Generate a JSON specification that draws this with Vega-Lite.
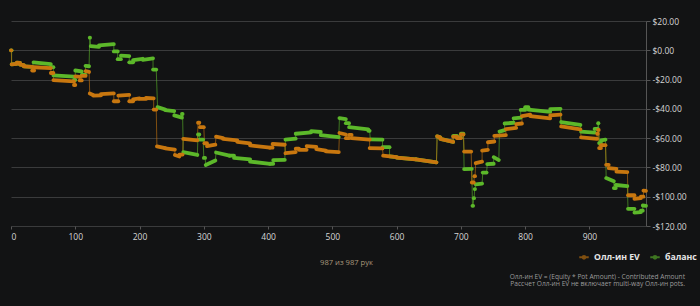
{
  "$schema": "https://vega.github.io/schema/vega-lite/v6.json",
  "width": 635,
  "height": 205,
  "autosize": {"type": "none"},
  "padding": {"left": 11, "top": 21, "right": 54, "bottom": 80},
  "background": "#121314",
  "config": {
    "view": {"stroke": null},
    "font": "Open Sans"
  },
  "title": {
    "text": ["Олл-ин EV = (Equity * Pot Amount) - Contributed Amount", "Рассчет Олл-ин EV не включает multi-way Олл-ин pots."],
    "orient": "bottom",
    "anchor": "end",
    "frame": "group",
    "dx": 39,
    "offset": 8,
    "fontSize": 6.6,
    "lineHeight": 7.6,
    "fontWeight": "normal",
    "color": "#9c9c9c",
    "font": "Open Sans"
  },
  "data": {
    "values": [
      {"s": "баланс", "x": 0, "x2": 1, "y": 0, "y2": 0},
      {"s": "баланс", "x": 1, "x2": 9, "y": -9.6, "y2": -9.3},
      {"s": "баланс", "x": 9, "x2": 14, "y": -8.5, "y2": -8.6},
      {"s": "баланс", "x": 14, "x2": 20, "y": -9.8, "y2": -10.2},
      {"s": "баланс", "x": 20, "x2": 33, "y": -11, "y2": -11.4},
      {"s": "баланс", "x": 35, "x2": 62, "y": -8.2, "y2": -9.5},
      {"s": "баланс", "x": 62, "x2": 66, "y": -11.5, "y2": -11.5},
      {"s": "баланс", "x": 66, "x2": 98, "y": -17.2, "y2": -18},
      {"s": "баланс", "x": 98, "x2": 100, "y": -20.3, "y2": -20.3},
      {"s": "баланс", "x": 100, "x2": 110, "y": -13.8, "y2": -14.4},
      {"s": "баланс", "x": 110, "x2": 116, "y": -16.8, "y2": -16.8},
      {"s": "баланс", "x": 116, "x2": 121.5, "y": -10.6, "y2": -10.9},
      {"s": "баланс", "x": 122.5, "x2": 123, "y": 8.6, "y2": 8.6},
      {"s": "баланс", "x": 124, "x2": 137, "y": 2.8, "y2": 2.3},
      {"s": "баланс", "x": 137, "x2": 160, "y": 3.3, "y2": 4.2},
      {"s": "баланс", "x": 160, "x2": 166, "y": -0.8, "y2": -0.8},
      {"s": "баланс", "x": 166, "x2": 171, "y": -6.1, "y2": -6.1},
      {"s": "баланс", "x": 171, "x2": 184, "y": -3.7, "y2": -4},
      {"s": "баланс", "x": 184, "x2": 190, "y": -8.2, "y2": -8.2},
      {"s": "баланс", "x": 190, "x2": 205, "y": -6.8, "y2": -5.8},
      {"s": "баланс", "x": 205, "x2": 221, "y": -6.5, "y2": -5.5},
      {"s": "баланс", "x": 221, "x2": 226, "y": -13.2, "y2": -13.2},
      {"s": "баланс", "x": 228, "x2": 240, "y": -38.8, "y2": -40.5},
      {"s": "баланс", "x": 240, "x2": 254, "y": -40.8, "y2": -41.5},
      {"s": "баланс", "x": 254, "x2": 266, "y": -44.5, "y2": -46},
      {"s": "баланс", "x": 266, "x2": 267, "y": -43.5, "y2": -43.5},
      {"s": "баланс", "x": 268, "x2": 290, "y": -69.5, "y2": -71.5},
      {"s": "баланс", "x": 291, "x2": 293, "y": -57.5, "y2": -57.5},
      {"s": "баланс", "x": 293, "x2": 299, "y": -61, "y2": -61},
      {"s": "баланс", "x": 300, "x2": 302, "y": -73.5, "y2": -73.5},
      {"s": "баланс", "x": 303, "x2": 318, "y": -78.3, "y2": -75.3},
      {"s": "баланс", "x": 319, "x2": 340, "y": -69.8, "y2": -72},
      {"s": "баланс", "x": 340, "x2": 347, "y": -72, "y2": -72},
      {"s": "баланс", "x": 347, "x2": 372, "y": -73.5, "y2": -74.5},
      {"s": "баланс", "x": 372, "x2": 403, "y": -76, "y2": -77.5},
      {"s": "баланс", "x": 403, "x2": 408, "y": -77.5, "y2": -77.5},
      {"s": "баланс", "x": 408, "x2": 426, "y": -75, "y2": -74.8},
      {"s": "баланс", "x": 427, "x2": 443, "y": -61, "y2": -60.3},
      {"s": "баланс", "x": 443, "x2": 467, "y": -57, "y2": -56},
      {"s": "баланс", "x": 467, "x2": 482, "y": -55.2, "y2": -55.8},
      {"s": "баланс", "x": 482, "x2": 510, "y": -58, "y2": -59.3},
      {"s": "баланс", "x": 511, "x2": 521, "y": -46.3, "y2": -47},
      {"s": "баланс", "x": 521, "x2": 526, "y": -49.8, "y2": -49.8},
      {"s": "баланс", "x": 526, "x2": 556, "y": -52.5, "y2": -54},
      {"s": "баланс", "x": 556, "x2": 558, "y": -55, "y2": -55},
      {"s": "баланс", "x": 559, "x2": 578, "y": -60.8, "y2": -61},
      {"s": "баланс", "x": 578, "x2": 589, "y": -66.2, "y2": -66.2},
      {"s": "баланс", "x": 589, "x2": 600, "y": -72.4, "y2": -73},
      {"s": "баланс", "x": 600, "x2": 630, "y": -73.3, "y2": -74.5},
      {"s": "баланс", "x": 630, "x2": 662, "y": -74.5, "y2": -76.5},
      {"s": "баланс", "x": 663, "x2": 668, "y": -58.8, "y2": -59.5},
      {"s": "баланс", "x": 668, "x2": 688, "y": -60.5, "y2": -62.5},
      {"s": "баланс", "x": 688, "x2": 694, "y": -58.5, "y2": -58.5},
      {"s": "баланс", "x": 694, "x2": 700, "y": -59.5, "y2": -59.5},
      {"s": "баланс", "x": 700, "x2": 704, "y": -57, "y2": -57},
      {"s": "баланс", "x": 705, "x2": 717, "y": -81.2, "y2": -81},
      {"s": "баланс", "x": 718, "x2": 719, "y": -106.2, "y2": -106.2},
      {"s": "баланс", "x": 720, "x2": 720.5, "y": -101, "y2": -101},
      {"s": "баланс", "x": 721.5, "x2": 722, "y": -94.8, "y2": -94.8},
      {"s": "баланс", "x": 723, "x2": 733, "y": -91.5, "y2": -91},
      {"s": "баланс", "x": 734, "x2": 740, "y": -83.5, "y2": -83.5},
      {"s": "баланс", "x": 741, "x2": 751, "y": -77.8, "y2": -77.5},
      {"s": "баланс", "x": 751, "x2": 759, "y": -73, "y2": -75},
      {"s": "баланс", "x": 760, "x2": 768, "y": -55.5, "y2": -54.5},
      {"s": "баланс", "x": 768, "x2": 782, "y": -50, "y2": -49.5},
      {"s": "баланс", "x": 782, "x2": 793, "y": -46.5, "y2": -46},
      {"s": "баланс", "x": 793, "x2": 800, "y": -40.7, "y2": -40.7},
      {"s": "баланс", "x": 800, "x2": 805, "y": -38.9, "y2": -38.9},
      {"s": "баланс", "x": 805, "x2": 839, "y": -40.5, "y2": -42},
      {"s": "баланс", "x": 839, "x2": 855, "y": -40.2, "y2": -40},
      {"s": "баланс", "x": 856, "x2": 886, "y": -49, "y2": -51},
      {"s": "баланс", "x": 887, "x2": 908, "y": -55.5, "y2": -56.2},
      {"s": "баланс", "x": 908, "x2": 913, "y": -53.7, "y2": -53.7},
      {"s": "баланс", "x": 913.5, "x2": 914, "y": -49.8, "y2": -49.8},
      {"s": "баланс", "x": 915, "x2": 918, "y": -63.4, "y2": -63.4},
      {"s": "баланс", "x": 918, "x2": 925, "y": -61.5, "y2": -61},
      {"s": "баланс", "x": 926, "x2": 938, "y": -87.3, "y2": -89.5},
      {"s": "баланс", "x": 938, "x2": 941, "y": -94.1, "y2": -94.1},
      {"s": "баланс", "x": 941, "x2": 959, "y": -92, "y2": -92.8},
      {"s": "баланс", "x": 960, "x2": 970, "y": -108.3, "y2": -108.3},
      {"s": "баланс", "x": 970, "x2": 980, "y": -110.8, "y2": -110.5},
      {"s": "баланс", "x": 980, "x2": 983, "y": -109.5, "y2": -109.5},
      {"s": "баланс", "x": 983, "x2": 988, "y": -106, "y2": -106.2},
      {"s": "Олл-ин EV", "x": 0, "x2": 0.5, "y": 0, "y2": 0},
      {"s": "Олл-ин EV", "x": 1, "x2": 9, "y": -9.6, "y2": -9.3},
      {"s": "Олл-ин EV", "x": 9, "x2": 14, "y": -8.5, "y2": -8.6},
      {"s": "Олл-ин EV", "x": 14, "x2": 20, "y": -9.8, "y2": -10.2},
      {"s": "Олл-ин EV", "x": 20, "x2": 33, "y": -11, "y2": -11.4},
      {"s": "Олл-ин EV", "x": 33, "x2": 36, "y": -13.8, "y2": -13.8},
      {"s": "Олл-ин EV", "x": 36, "x2": 62, "y": -11.6, "y2": -12.2},
      {"s": "Олл-ин EV", "x": 62, "x2": 66, "y": -15.5, "y2": -15.5},
      {"s": "Олл-ин EV", "x": 66, "x2": 98, "y": -20.4, "y2": -21.2},
      {"s": "Олл-ин EV", "x": 98, "x2": 100, "y": -23.7, "y2": -23.7},
      {"s": "Олл-ин EV", "x": 100, "x2": 107, "y": -17.8, "y2": -18.2},
      {"s": "Олл-ин EV", "x": 107, "x2": 110, "y": -20.6, "y2": -20.6},
      {"s": "Олл-ин EV", "x": 110, "x2": 116, "y": -17.5, "y2": -17.5},
      {"s": "Олл-ин EV", "x": 116, "x2": 121.5, "y": -14.3, "y2": -14.8},
      {"s": "Олл-ин EV", "x": 122.5, "x2": 128, "y": -29.5, "y2": -30.5},
      {"s": "Олл-ин EV", "x": 128, "x2": 140, "y": -31, "y2": -30.8},
      {"s": "Олл-ин EV", "x": 140, "x2": 160, "y": -30, "y2": -29.4},
      {"s": "Олл-ин EV", "x": 160, "x2": 167, "y": -34.8, "y2": -34.8},
      {"s": "Олл-ин EV", "x": 167, "x2": 184, "y": -31, "y2": -30.5},
      {"s": "Олл-ин EV", "x": 184, "x2": 190, "y": -34.8, "y2": -34.8},
      {"s": "Олл-ин EV", "x": 190, "x2": 200, "y": -33.5, "y2": -32.8},
      {"s": "Олл-ин EV", "x": 200, "x2": 210, "y": -33.2, "y2": -33.2},
      {"s": "Олл-ин EV", "x": 210, "x2": 222, "y": -32.6, "y2": -32.8},
      {"s": "Олл-ин EV", "x": 222, "x2": 226, "y": -40.5, "y2": -40.5},
      {"s": "Олл-ин EV", "x": 227, "x2": 240, "y": -65.6, "y2": -66.8},
      {"s": "Олл-ин EV", "x": 240, "x2": 255, "y": -67, "y2": -67.8},
      {"s": "Олл-ин EV", "x": 255, "x2": 262, "y": -71.5, "y2": -72.5},
      {"s": "Олл-ин EV", "x": 262, "x2": 267, "y": -71.2, "y2": -71.2},
      {"s": "Олл-ин EV", "x": 268, "x2": 290, "y": -60.5, "y2": -61.5},
      {"s": "Олл-ин EV", "x": 291, "x2": 293, "y": -49.5, "y2": -49.5},
      {"s": "Олл-ин EV", "x": 294, "x2": 300, "y": -52.5, "y2": -52.5},
      {"s": "Олл-ин EV", "x": 301, "x2": 305, "y": -63.5, "y2": -63.5},
      {"s": "Олл-ин EV", "x": 305, "x2": 318, "y": -65.5, "y2": -64.5},
      {"s": "Олл-ин EV", "x": 319, "x2": 330, "y": -59, "y2": -60},
      {"s": "Олл-ин EV", "x": 330, "x2": 352, "y": -60.5, "y2": -61.5},
      {"s": "Олл-ин EV", "x": 352, "x2": 372, "y": -62.5, "y2": -63.5},
      {"s": "Олл-ин EV", "x": 372, "x2": 403, "y": -65, "y2": -66.5},
      {"s": "Олл-ин EV", "x": 403, "x2": 407, "y": -66.5, "y2": -66.5},
      {"s": "Олл-ин EV", "x": 407, "x2": 426, "y": -64, "y2": -64.5},
      {"s": "Олл-ин EV", "x": 427, "x2": 443, "y": -70.3, "y2": -69.5},
      {"s": "Олл-ин EV", "x": 443, "x2": 448, "y": -67.2, "y2": -67.2},
      {"s": "Олл-ин EV", "x": 448, "x2": 460, "y": -68, "y2": -68},
      {"s": "Олл-ин EV", "x": 460, "x2": 475, "y": -65.5, "y2": -66},
      {"s": "Олл-ин EV", "x": 475, "x2": 490, "y": -67.5, "y2": -68.5},
      {"s": "Олл-ин EV", "x": 490, "x2": 510, "y": -69, "y2": -69.5},
      {"s": "Олл-ин EV", "x": 511, "x2": 521, "y": -56.5, "y2": -57.5},
      {"s": "Олл-ин EV", "x": 521, "x2": 526, "y": -60, "y2": -60},
      {"s": "Олл-ин EV", "x": 526, "x2": 530, "y": -57.8, "y2": -57.8},
      {"s": "Олл-ин EV", "x": 530, "x2": 558, "y": -60, "y2": -61},
      {"s": "Олл-ин EV", "x": 558, "x2": 578, "y": -66.8, "y2": -67},
      {"s": "Олл-ин EV", "x": 579, "x2": 600, "y": -72, "y2": -73},
      {"s": "Олл-ин EV", "x": 600, "x2": 630, "y": -73.3, "y2": -74.5},
      {"s": "Олл-ин EV", "x": 630, "x2": 662, "y": -74.5, "y2": -76.5},
      {"s": "Олл-ин EV", "x": 663, "x2": 668, "y": -58.8, "y2": -59.5},
      {"s": "Олл-ин EV", "x": 668, "x2": 688, "y": -60.5, "y2": -62.5},
      {"s": "Олл-ин EV", "x": 688, "x2": 694, "y": -59, "y2": -59},
      {"s": "Олл-ин EV", "x": 694, "x2": 700, "y": -60, "y2": -60},
      {"s": "Олл-ин EV", "x": 700, "x2": 704, "y": -57.5, "y2": -57.5},
      {"s": "Олл-ин EV", "x": 705, "x2": 716, "y": -69.2, "y2": -69.2},
      {"s": "Олл-ин EV", "x": 717, "x2": 720, "y": -90.3, "y2": -90.3},
      {"s": "Олл-ин EV", "x": 721, "x2": 722, "y": -86, "y2": -86},
      {"s": "Олл-ин EV", "x": 723, "x2": 733, "y": -77, "y2": -76},
      {"s": "Олл-ин EV", "x": 733, "x2": 742, "y": -68.5, "y2": -68},
      {"s": "Олл-ин EV", "x": 742, "x2": 752, "y": -62.8, "y2": -62.3},
      {"s": "Олл-ин EV", "x": 752, "x2": 770, "y": -58.5, "y2": -58},
      {"s": "Олл-ин EV", "x": 770, "x2": 786, "y": -53.8, "y2": -53},
      {"s": "Олл-ин EV", "x": 786, "x2": 795, "y": -50.5, "y2": -50},
      {"s": "Олл-ин EV", "x": 795, "x2": 808, "y": -45, "y2": -44},
      {"s": "Олл-ин EV", "x": 808, "x2": 839, "y": -45, "y2": -46.5},
      {"s": "Олл-ин EV", "x": 839, "x2": 855, "y": -44.5, "y2": -44},
      {"s": "Олл-ин EV", "x": 856, "x2": 886, "y": -52, "y2": -54},
      {"s": "Олл-ин EV", "x": 887, "x2": 912, "y": -59.5, "y2": -60.5},
      {"s": "Олл-ин EV", "x": 912, "x2": 913, "y": -57, "y2": -57},
      {"s": "Олл-ин EV", "x": 913.5, "x2": 914.5, "y": -54.4, "y2": -54.4},
      {"s": "Олл-ин EV", "x": 915, "x2": 918, "y": -66.8, "y2": -66.8},
      {"s": "Олл-ин EV", "x": 918, "x2": 925, "y": -64.8, "y2": -64.8},
      {"s": "Олл-ин EV", "x": 926, "x2": 930, "y": -78.2, "y2": -78.2},
      {"s": "Олл-ин EV", "x": 930, "x2": 942, "y": -80.5, "y2": -81},
      {"s": "Олл-ин EV", "x": 942, "x2": 959, "y": -82.8, "y2": -83.2},
      {"s": "Олл-ин EV", "x": 960, "x2": 970, "y": -99, "y2": -99},
      {"s": "Олл-ин EV", "x": 970, "x2": 980, "y": -101.4, "y2": -101},
      {"s": "Олл-ин EV", "x": 980, "x2": 984, "y": -100, "y2": -100},
      {"s": "Олл-ин EV", "x": 984, "x2": 988, "y": -95.8, "y2": -96}
    ]
  },
  "encoding": {
    "x": {
      "field": "x",
      "type": "quantitative",
      "scale": {"domain": [0, 988], "nice": false, "zero": false},
      "axis": {
        "orient": "bottom",
        "values": [0, 100, 200, 300, 400, 500, 600, 700, 800, 900],
        "grid": false,
        "domain": false,
        "tickColor": "#555555",
        "tickSize": 3,
        "labelColor": "#d6d6d6",
        "labelFont": "Open Sans",
        "labelFontSize": 8.5,
        "labelPadding": 3,
        "title": "987 из 987 рук",
        "titleColor": "#a8987c",
        "titleFont": "Open Sans",
        "titleFontSize": 7.6,
        "titleFontWeight": "normal",
        "titleBaseline": "middle",
        "titleX": 335,
        "titleY": 36
      }
    },
    "y": {
      "field": "y",
      "type": "quantitative",
      "scale": {"domain": [-120, 20], "nice": false, "zero": false},
      "axis": {
        "orient": "right",
        "values": [-120, -100, -80, -60, -40, -20, 0, 20],
        "labelExpr": "datum.value < 0 ? '-$' + format(abs(datum.value), '.2f') : '$' + format(datum.value, '.2f')",
        "labelOverlap": false,
        "grid": true,
        "gridColor": "#3a3b3c",
        "gridWidth": 1,
        "domainColor": "#555555",
        "tickColor": "#555555",
        "tickSize": 4,
        "labelPadding": 2,
        "labelColor": "#d6d6d6",
        "labelFont": "Open Sans",
        "labelFontSize": 8.5,
        "title": null
      }
    },
    "color": {
      "field": "s",
      "type": "nominal",
      "scale": {"domain": ["Олл-ин EV", "баланс"], "range": ["#c8770f", "#5cb82a"]},
      "legend": {
        "title": null,
        "orient": "none",
        "direction": "horizontal",
        "legendX": 567,
        "legendY": 230,
        "symbolType": "M-1,0H1M0.28,0A0.28,0.28 0 1,1 -0.28,0A0.28,0.28 0 1,1 0.28,0Z",
        "symbolSize": 90,
        "symbolStrokeWidth": 2,
        "labelFont": "Open Sans",
        "labelFontSize": 8.7,
        "labelFontWeight": "bold",
        "labelColor": "#e6e6e6",
        "columnPadding": 6,
        "labelOffset": 4
      }
    }
  },
  "layer": [
    {
      "transform": [
        {"window": [{"op": "lag", "field": "x2", "as": "px"}, {"op": "lag", "field": "y2", "as": "py"}], "groupby": ["s"], "sort": [{"field": "x"}]},
        {"filter": "datum.px != null"}
      ],
      "mark": {"type": "rule", "strokeWidth": 1, "opacity": 0.6},
      "encoding": {
        "x2": {"field": "px"},
        "y2": {"field": "py"}
      }
    },
    {
      "mark": {"type": "rule", "strokeWidth": 3.8, "strokeCap": "round"},
      "encoding": {
        "x2": {"field": "x2"},
        "y2": {"field": "y2"}
      }
    }
  ]
}
